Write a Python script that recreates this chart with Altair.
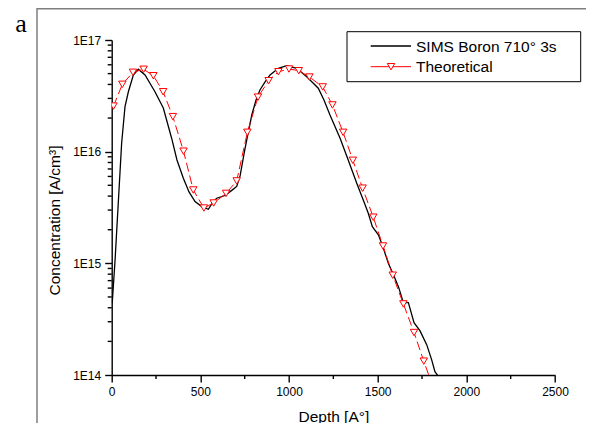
import altair as alt
import pandas as pd

# ---- data ----
sims_depth = [3, 19, 37, 56, 75, 94, 122, 150, 188, 244, 291, 338, 368, 404, 436, 470,
              508, 545, 573, 592, 639, 677, 705, 724, 752, 790, 814, 836, 865, 893, 940,
              987, 1043, 1100, 1165, 1197, 1231, 1288, 1338, 1382, 1423, 1447, 1470, 1504,
              1530, 1560, 1587, 1617, 1645, 1673, 1705, 1739, 1777, 1805, 1823, 1845]
sims_conc = [4.40e14, 1.07e15, 3.45e15, 1.19e16, 2.53e16, 3.44e16, 4.86e16, 5.47e16,
             4.86e16, 3.44e16, 2.46e16, 1.32e16, 8.43e15, 5.78e15, 4.36e15, 3.57e15,
             3.22e15, 3.05e15, 3.57e15, 3.83e15, 4.05e15, 4.50e15, 4.88e15, 6.06e15,
             1.07e16, 2.13e16, 2.90e16, 3.57e16, 4.21e16, 4.86e16, 5.58e16, 5.89e16,
             5.58e16, 4.69e16, 3.70e16, 2.90e16, 2.13e16, 1.32e16, 8.09e15, 5.21e15,
             3.55e15, 2.81e15, 2.13e15, 1.80e15, 1.40e15, 1.00e15, 8.04e14, 6.18e14,
             4.45e14, 4.45e14, 2.94e14, 2.48e14, 1.86e14, 1.36e14, 1.07e14, 9.6e13]

theo_depth = [10, 60, 120, 180, 235, 290, 345, 405, 460, 520, 575, 645, 705, 765, 825,
              885, 940, 1000, 1055, 1115, 1190, 1245, 1305, 1360, 1415, 1475, 1530, 1585,
              1645, 1705, 1760, 1820]
theo_conc = [2.56e16, 4.01e16, 5.14e16, 5.47e16, 4.79e16, 3.44e16, 2.06e16, 1.01e16,
             4.54e15, 3.13e15, 3.47e15, 4.23e15, 5.47e15, 1.49e16, 3.08e16, 4.32e16,
             5.20e16, 5.50e16, 5.31e16, 4.66e16, 3.80e16, 2.62e16, 1.49e16, 8.37e15,
             4.71e15, 2.59e15, 1.43e15, 7.83e14, 4.33e14, 2.40e14, 1.33e14, 7.2e13]

legend_labels = ["SIMS Boron 710\u00b0 3s", "Theoretical"]
panel_label = ["a"]
x_ticks = [0, 500, 1000, 1500, 2000, 2500]
x_minor = [250, 750, 1250, 1750, 2250]
y_ticks = [1e14, 1e15, 1e16, 1e17]
y_minor = [m * 10.0 ** e for e in (14, 15, 16) for m in range(2, 10)]

FONT = "Liberation Sans"
W, H = 443.3, 335
AX_W = 1.4

sims = pd.DataFrame({"depth": sims_depth, "conc": sims_conc})
theo = pd.DataFrame({"depth": theo_depth, "conc": theo_conc})
one = pd.DataFrame({"k": [0]})

xscale = alt.Scale(domain=[0, 2500], nice=False, zero=False)
yscale = alt.Scale(type="log", domain=[1e14, 1e17], nice=False)

major_x = alt.Axis(orient="bottom", values=x_ticks, tickSize=7,
                   tickWidth=AX_W, tickColor="black",
                   domainColor="black", domainWidth=AX_W, labelFont=FONT, labelFontSize=12,
                   labelColor="black", labelPadding=4, labelFlush=False, grid=False,
                   format="d",
                   title="Depth [A\u00b0]", titleFont=FONT, titleFontSize=15.5,
                   titleFontWeight="normal", titleColor="black", titleBaseline="alphabetic",
                   titleY=46)
major_y = alt.Axis(orient="left", values=y_ticks, tickSize=7,
                   tickWidth=AX_W, tickColor="black",
                   domainColor="black", domainWidth=AX_W, labelFont=FONT, labelFontSize=12,
                   labelColor="black", labelPadding=4, labelFlush=False, grid=False,
                   labelExpr="'1E' + round(log(datum.value) / LN10)",
                   title="Concentration [A/cm\u00b3]", titleFont=FONT, titleFontSize=15.5,
                   titleFontWeight="normal", titleColor="black", titleAngle=270,
                   titleAlign="center", titleBaseline="middle", titleX=-56.7, titleY=180)

sims_line = alt.Chart(sims).mark_line(color="black", strokeWidth=1.3, clip=True).encode(
    x=alt.X("depth:Q", scale=xscale, axis=major_x),
    y=alt.Y("conc:Q", scale=yscale, axis=major_y),
)

theo_line = alt.Chart(theo).mark_line(color="red", strokeWidth=1, strokeDash=[9, 4], clip=True).encode(
    x=alt.X("depth:Q", scale=xscale),
    y=alt.Y("conc:Q", scale=yscale),
)

theo_pts = alt.Chart(theo).mark_point(shape="triangle-down", filled=True, fill="white",
                                      stroke="red", strokeWidth=1, size=55, opacity=1,
                                      clip=True).encode(
    x=alt.X("depth:Q", scale=xscale),
    y=alt.Y("conc:Q", scale=yscale),
)

# minor ticks, placed through the shared scales
minor_xt = alt.Chart(pd.DataFrame({"v": x_minor})).mark_rule(color="black", strokeWidth=AX_W).encode(
    x=alt.X("v:Q", scale=xscale), y=alt.value(H), y2=alt.value(H + 4))
minor_yt = alt.Chart(pd.DataFrame({"v": y_minor})).mark_rule(color="black", strokeWidth=AX_W).encode(
    y=alt.Y("v:Q", scale=yscale), x=alt.value(0), x2=alt.value(-4))

# outer figure frame
frame = alt.Chart(one).mark_rect(fillOpacity=0, stroke="#7f7f7f", strokeWidth=1.5).encode(
    x=alt.value(-74.7), x2=alt.value(476.3), y=alt.value(-31.3), y2=alt.value(420))

panel = alt.Chart(pd.DataFrame({"t": panel_label})).mark_text(
    font="Liberation Serif", fontSize=26, align="left", baseline="alphabetic", color="black"
).encode(x=alt.value(-96.5), y=alt.value(-8.3), text="t:N")

# legend
leg_df = pd.DataFrame({"label": legend_labels})
leg_box = alt.Chart(one).mark_rect(fill="white", stroke="black", strokeWidth=1).encode(
    x=alt.value(235.3), x2=alt.value(469), y=alt.value(-8.3), y2=alt.value(41.7))
leg_l1 = alt.Chart(one).mark_rule(color="black", strokeWidth=1.3).encode(
    x=alt.value(259), x2=alt.value(299.3), y=alt.value(6))
leg_l2 = alt.Chart(one).mark_rule(color="red", strokeWidth=1).encode(
    x=alt.value(259), x2=alt.value(299.3), y=alt.value(26.7))
leg_tri = alt.Chart(one).mark_point(shape="triangle-down", filled=True, fill="white",
                                    stroke="red", strokeWidth=1, size=55, opacity=1).encode(
    x=alt.value(279.3), y=alt.value(26.7))
leg_t1 = alt.Chart(leg_df.iloc[[0]]).mark_text(font=FONT, fontSize=15.5, align="left",
                                               baseline="middle", color="black").encode(
    x=alt.value(304.3), y=alt.value(6.5), text="label:N")
leg_t2 = alt.Chart(leg_df.iloc[[1]]).mark_text(font=FONT, fontSize=15.5, align="left",
                                               baseline="middle", color="black").encode(
    x=alt.value(304.3), y=alt.value(27.2), text="label:N")

chart = alt.layer(
    frame, panel, sims_line, theo_line, theo_pts, minor_xt, minor_yt,
    leg_box, leg_l1, leg_l2, leg_tri, leg_t1, leg_t2
).properties(
    width=W, height=H,
    autosize=alt.AutoSizeParams(type="none"),
    padding={"left": 103.7, "top": 32, "right": 31, "bottom": 48},
    background="white",
).configure_view(stroke="transparent")

chart.save("out.html", embed_options={"renderer": "svg", "actions": False})
